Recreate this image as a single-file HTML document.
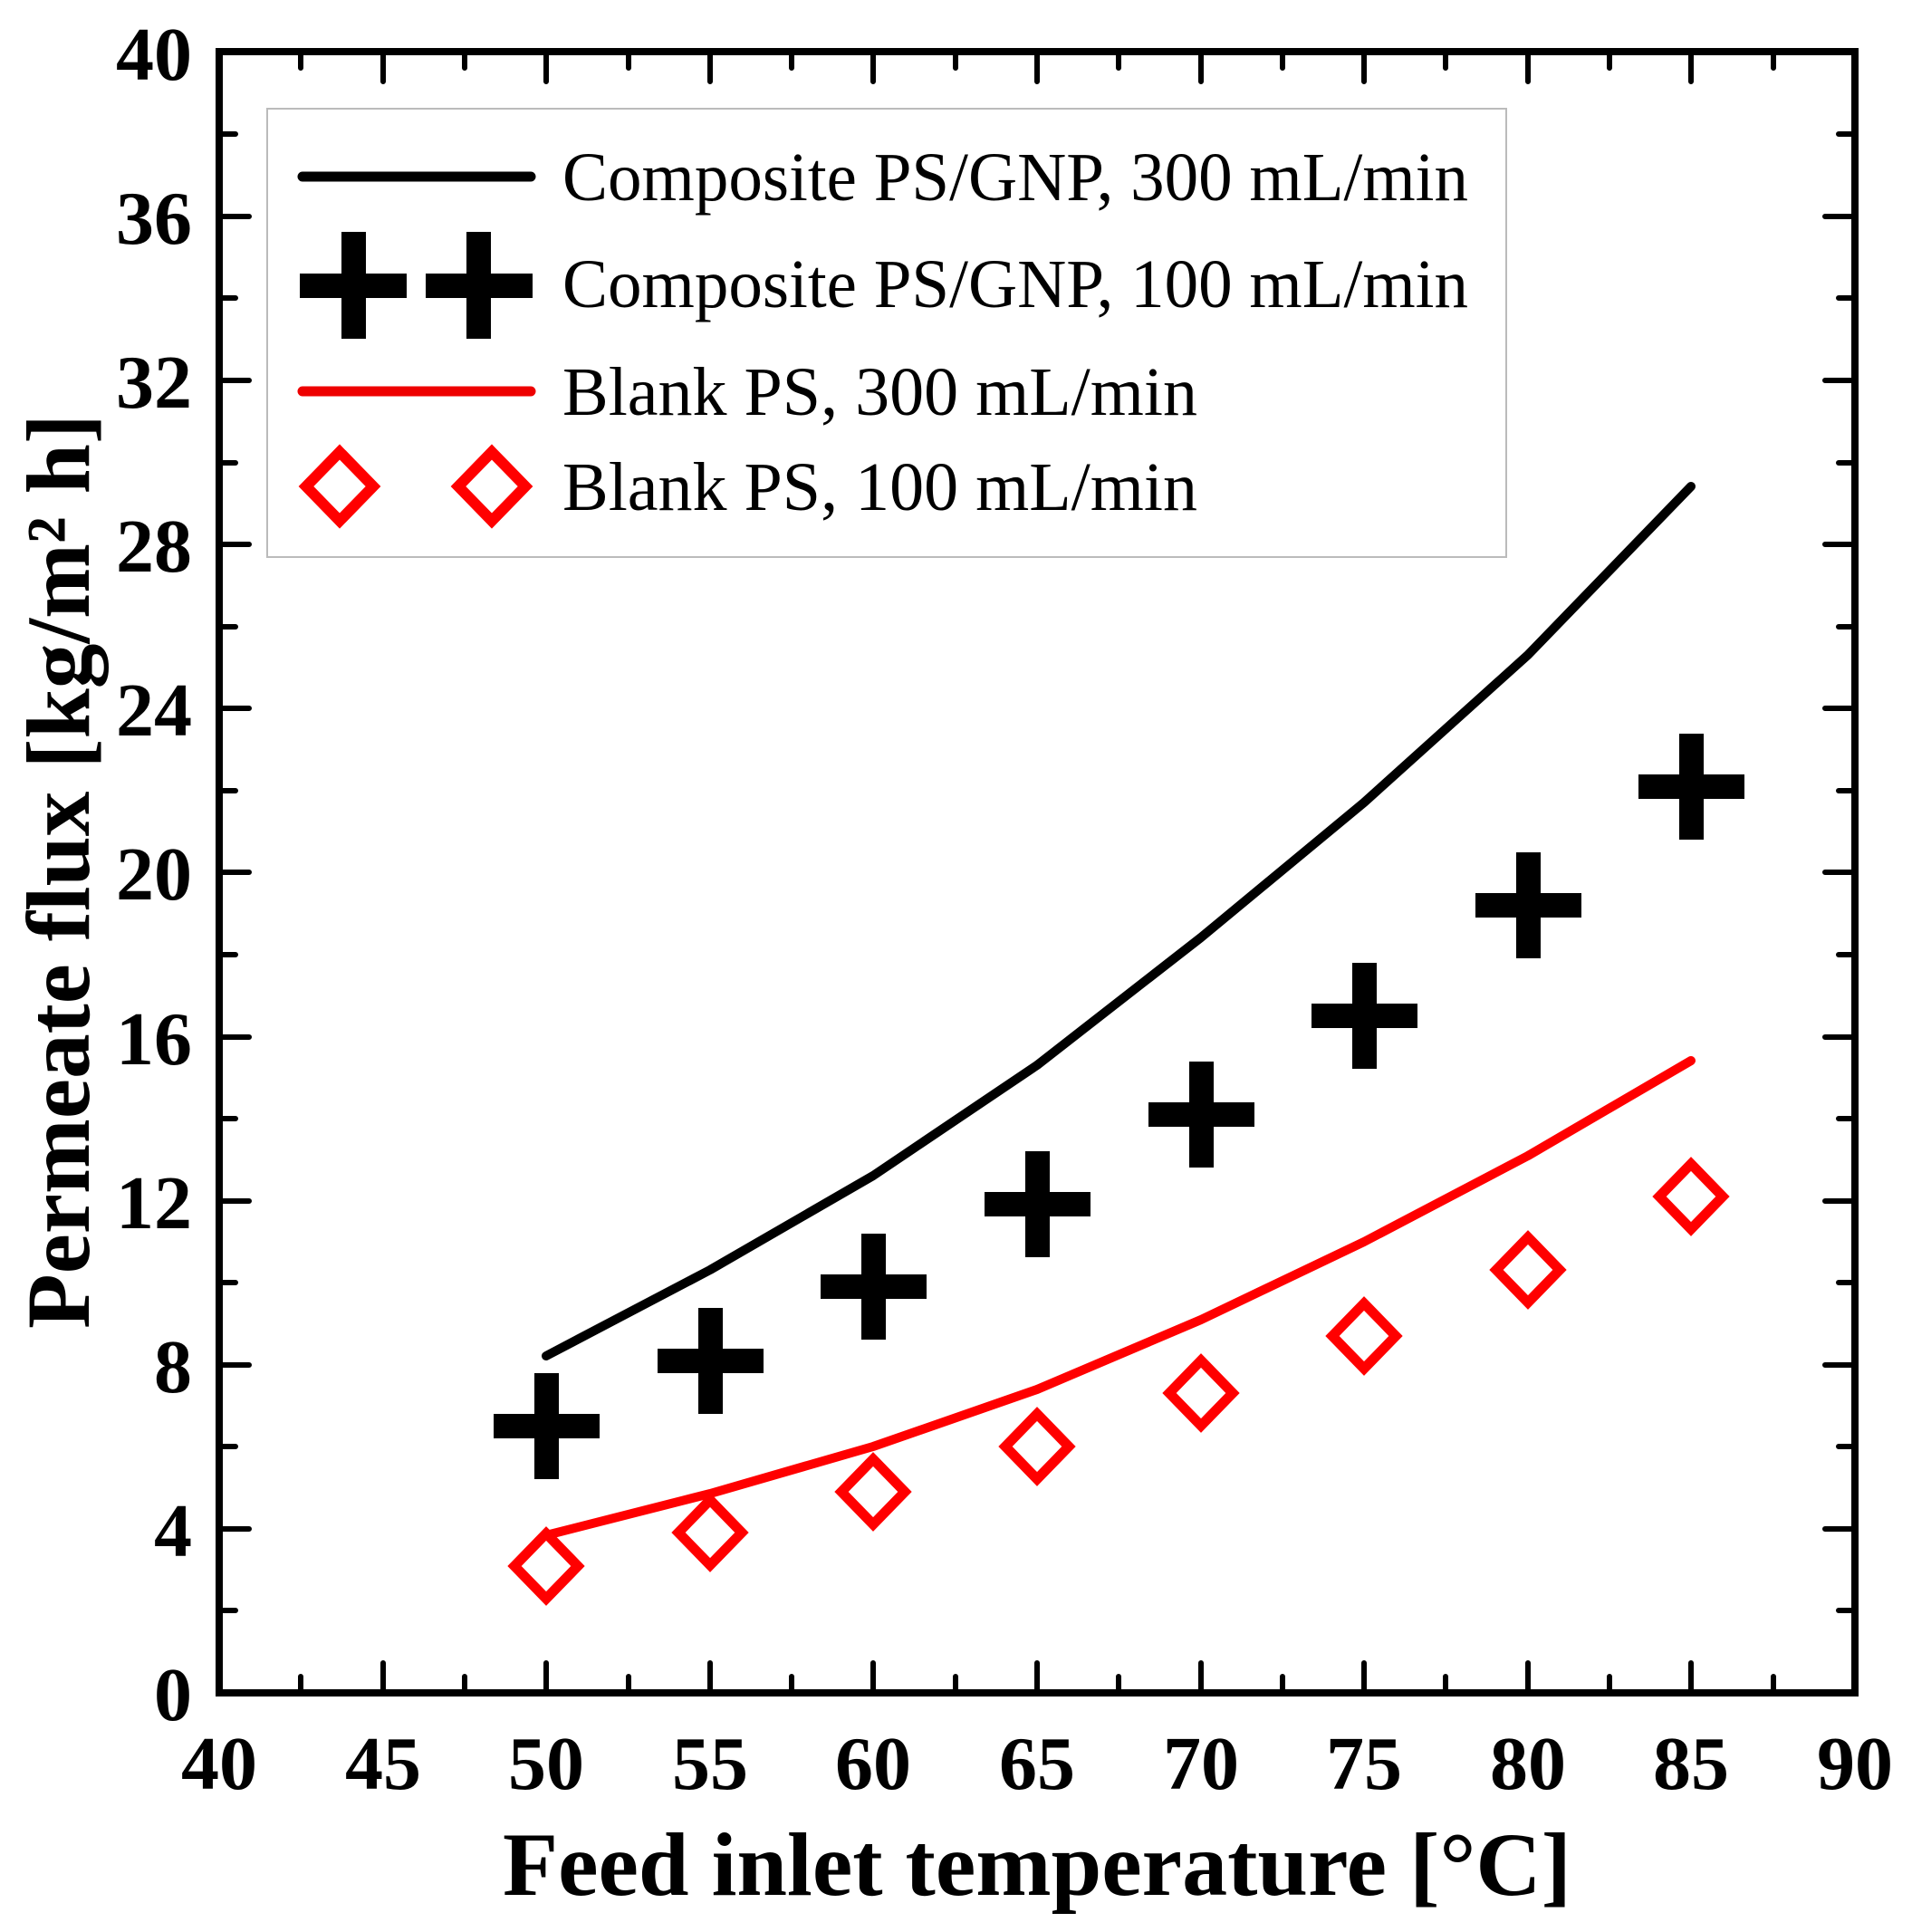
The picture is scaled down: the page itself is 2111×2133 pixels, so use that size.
<!DOCTYPE html>
<html><head><meta charset="utf-8"><style>
html,body{margin:0;padding:0;background:#fff;}
svg{display:block;}
text{font-family:"Liberation Serif",serif;}
</style></head><body>
<svg width="2111" height="2133" viewBox="0 0 2111 2133" xmlns="http://www.w3.org/2000/svg">
<!-- ticks -->
<g stroke="#000" stroke-width="6" stroke-linecap="round">
<!-- bottom/top x ticks major -->
<path d="M603,1869v-33M784,1869v-33M964,1869v-33M1145,1869v-33M1326,1869v-33M1506,1869v-33M1687,1869v-33M1867,1869v-33M423,1869v-33
M603,57v33M784,57v33M964,57v33M1145,57v33M1326,57v33M1506,57v33M1687,57v33M1867,57v33M423,57v33"/>
<path d="M332,1869v-18M513,1869v-18M694,1869v-18M874,1869v-18M1055,1869v-18M1235,1869v-18M1416,1869v-18M1596,1869v-18M1777,1869v-18M1958,1869v-18
M332,57v18M513,57v18M694,57v18M874,57v18M1055,57v18M1235,57v18M1416,57v18M1596,57v18M1777,57v18M1958,57v18"/>
<!-- y ticks major -->
<path d="M242,1688h33M242,1507h33M242,1326h33M242,1145h33M242,963h33M242,782h33M242,601h33M242,420h33M242,239h33
M2048,1688h-33M2048,1507h-33M2048,1326h-33M2048,1145h-33M2048,963h-33M2048,782h-33M2048,601h-33M2048,420h-33M2048,239h-33"/>
<path d="M242,1778h18M242,1597h18M242,1416h18M242,1235h18M242,1054h18M242,873h18M242,692h18M242,511h18M242,329h18M242,148h18
M2048,1778h-18M2048,1597h-18M2048,1416h-18M2048,1235h-18M2048,1054h-18M2048,873h-18M2048,692h-18M2048,511h-18M2048,329h-18M2048,148h-18"/>
</g>
<rect x="242" y="57" width="1806" height="1812" fill="none" stroke="#000" stroke-width="8"/>
<!-- tick labels -->
<g font-size="84" font-weight="bold" text-anchor="end">
<text x="212" y="88">40</text><text x="212" y="269">36</text><text x="212" y="450">32</text>
<text x="212" y="631">28</text><text x="212" y="812">24</text><text x="212" y="993">20</text>
<text x="212" y="1175">16</text><text x="212" y="1356">12</text><text x="212" y="1537">8</text>
<text x="212" y="1718">4</text><text x="212" y="1899">0</text>
</g>
<g font-size="84" font-weight="bold" text-anchor="middle">
<text x="242" y="1975">40</text><text x="423" y="1975">45</text><text x="603" y="1975">50</text>
<text x="784" y="1975">55</text><text x="964" y="1975">60</text><text x="1145" y="1975">65</text>
<text x="1326" y="1975">70</text><text x="1506" y="1975">75</text><text x="1687" y="1975">80</text>
<text x="1867" y="1975">85</text><text x="2048" y="1975">90</text>
</g>
<text x="1145" y="2092" font-size="100" font-weight="bold" text-anchor="middle" textLength="1180" lengthAdjust="spacingAndGlyphs">Feed inlet temperature [°C]</text>
<text transform="translate(98,962) rotate(-90)" font-size="100" font-weight="bold" text-anchor="middle" textLength="1010" lengthAdjust="spacingAndGlyphs">Permeate flux [kg/m² h]</text>
<!-- legend -->
<rect x="295" y="120" width="1368" height="495" fill="#fff" stroke="#bbb" stroke-width="2"/>
<line x1="334" y1="195" x2="586" y2="195" stroke="#000" stroke-width="11" stroke-linecap="round"/>
<line x1="334" y1="432" x2="586" y2="432" stroke="#e00" stroke-width="11" stroke-linecap="round"/>
<g fill="#000">
<rect x="331" y="302" width="118" height="27"/><rect x="377" y="256" width="27" height="118"/>
<rect x="470" y="302" width="118" height="27"/><rect x="515" y="256" width="27" height="118"/>
</g>
<g fill="none" stroke="#f00" stroke-width="12">
<path d="M375,499l37,38l-37,38l-37,-38z"/>
<path d="M543,499l37,38l-37,38l-37,-38z"/>
</g>
<g font-size="76">
<text x="621" y="221" textLength="1000" lengthAdjust="spacingAndGlyphs">Composite PS/GNP, 300 mL/min</text>
<text x="621" y="339" textLength="1000" lengthAdjust="spacingAndGlyphs">Composite PS/GNP, 100 mL/min</text>
<text x="621" y="458">Blank PS, 300 mL/min</text>
<text x="621" y="563">Blank PS, 100 mL/min</text>
</g>
<!-- series -->
<polyline fill="none" stroke="#000" stroke-width="10" stroke-linecap="round" stroke-linejoin="round"
 points="603,1497 784,1402 964,1298 1145,1176 1326,1035 1506,886 1687,723 1867,537"/>
<polyline fill="none" stroke="#f00" stroke-width="10" stroke-linecap="round" stroke-linejoin="round"
 points="603,1695 784,1649 964,1597 1145,1534 1326,1457 1506,1371 1687,1276 1867,1171"/>
<g fill="#000">
<path d="M590,1516h27v45h45v27h-45v45h-27v-45h-45v-27h45z"/>
<path d="M771,1444h27v45h45v27h-45v45h-27v-45h-45v-27h45z"/>
<path d="M951,1362h27v45h45v27h-45v45h-27v-45h-45v-27h45z"/>
<path d="M1132,1271h27v45h45v27h-45v45h-27v-45h-45v-27h45z"/>
<path d="M1313,1172h27v45h45v27h-45v45h-27v-45h-45v-27h45z"/>
<path d="M1493,1063h27v45h45v27h-45v45h-27v-45h-45v-27h45z"/>
<path d="M1674,941h27v45h45v27h-45v45h-27v-45h-45v-27h45z"/>
<path d="M1854,810h27v45h45v27h-45v45h-27v-45h-45v-27h45z"/>
</g>
<g fill="none" stroke="#f00" stroke-width="11">
<path d="M603,1693l35,36l-35,36l-35,-36z"/>
<path d="M784,1656l35,36l-35,36l-35,-36z"/>
<path d="M964,1611l35,36l-35,36l-35,-36z"/>
<path d="M1145,1561l35,36l-35,36l-35,-36z"/>
<path d="M1326,1502l35,36l-35,36l-35,-36z"/>
<path d="M1506,1439l35,36l-35,36l-35,-36z"/>
<path d="M1687,1366l35,36l-35,36l-35,-36z"/>
<path d="M1867,1285l35,36l-35,36l-35,-36z"/>
</g>
</svg>
</body></html>
